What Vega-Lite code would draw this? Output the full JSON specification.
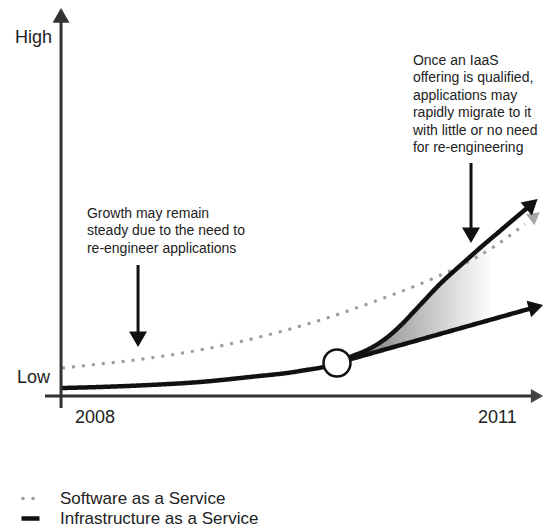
{
  "$schema": "https://vega.github.io/schema/vega-lite/v6.json",
  "width": 555,
  "height": 529,
  "autosize": {"type": "none"},
  "padding": 0,
  "background": "#ffffff",
  "config": {
    "view": {"stroke": null},
    "font": "Liberation Sans",
    "legend": {"rowPadding": 0, "symbolSize": 324, "padding": 0, "labelFontSize": 17, "labelOffset": 18, "labelLimit": 0, "symbolStrokeWidth": 3.5, "symbolType": "stroke"}
  },
  "datasets": {
    "curves": [
      {"series": "Software as a Service", "path": "saas", "year": 2007.754, "level": 7.22},
      {"series": "Software as a Service", "path": "saas", "year": 2008.037, "level": 8.25},
      {"series": "Software as a Service", "path": "saas", "year": 2008.410, "level": 9.79},
      {"series": "Software as a Service", "path": "saas", "year": 2008.783, "level": 11.86},
      {"series": "Software as a Service", "path": "saas", "year": 2009.103, "level": 14.18},
      {"series": "Software as a Service", "path": "saas", "year": 2009.401, "level": 16.75},
      {"series": "Software as a Service", "path": "saas", "year": 2009.729, "level": 20.10},
      {"series": "Software as a Service", "path": "saas", "year": 2010.072, "level": 24.23},
      {"series": "Software as a Service", "path": "saas", "year": 2010.423, "level": 28.87},
      {"series": "Software as a Service", "path": "saas", "year": 2010.721, "level": 33.51},
      {"series": "Software as a Service", "path": "saas", "year": 2010.982, "level": 38.66},
      {"series": "Software as a Service", "path": "saas", "year": 2011.205, "level": 44.33},
      {"series": "Infrastructure as a Service", "path": "iaas-main", "year": 2007.754, "level": 2.06},
      {"series": "Infrastructure as a Service", "path": "iaas-main", "year": 2008.037, "level": 2.32},
      {"series": "Infrastructure as a Service", "path": "iaas-main", "year": 2008.410, "level": 2.84},
      {"series": "Infrastructure as a Service", "path": "iaas-main", "year": 2008.783, "level": 3.61},
      {"series": "Infrastructure as a Service", "path": "iaas-main", "year": 2009.155, "level": 4.90},
      {"series": "Infrastructure as a Service", "path": "iaas-main", "year": 2009.528, "level": 6.44},
      {"series": "Infrastructure as a Service", "path": "iaas-main", "year": 2009.804, "level": 8.51},
      {"series": "Infrastructure as a Service", "path": "iaas-main", "year": 2009.901, "level": 10.05},
      {"series": "Infrastructure as a Service", "path": "iaas-main", "year": 2010.028, "level": 11.86},
      {"series": "Infrastructure as a Service", "path": "iaas-main", "year": 2010.162, "level": 14.69},
      {"series": "Infrastructure as a Service", "path": "iaas-main", "year": 2010.274, "level": 18.04},
      {"series": "Infrastructure as a Service", "path": "iaas-main", "year": 2010.423, "level": 23.45},
      {"series": "Infrastructure as a Service", "path": "iaas-main", "year": 2010.572, "level": 28.87},
      {"series": "Infrastructure as a Service", "path": "iaas-main", "year": 2010.736, "level": 34.02},
      {"series": "Infrastructure as a Service", "path": "iaas-main", "year": 2010.870, "level": 38.14},
      {"series": "Infrastructure as a Service", "path": "iaas-main", "year": 2011.019, "level": 42.53},
      {"series": "Infrastructure as a Service", "path": "iaas-main", "year": 2011.168, "level": 46.91},
      {"series": "Infrastructure as a Service", "path": "iaas-main", "year": 2011.257, "level": 49.48},
      {"series": "Infrastructure as a Service", "path": "iaas-low", "year": 2009.804, "level": 8.51},
      {"series": "Infrastructure as a Service", "path": "iaas-low", "year": 2011.287, "level": 22.94}
    ],
    "shade": [
      {"year": 2009.804, "level": 8.51, "lower": 8.51},
      {"year": 2009.901, "level": 10.05, "lower": 9.45},
      {"year": 2010.028, "level": 11.86, "lower": 10.67},
      {"year": 2010.162, "level": 14.69, "lower": 11.98},
      {"year": 2010.274, "level": 18.04, "lower": 13.07},
      {"year": 2010.423, "level": 23.45, "lower": 14.51},
      {"year": 2010.572, "level": 28.87, "lower": 15.95},
      {"year": 2010.736, "level": 34.02, "lower": 17.55},
      {"year": 2010.870, "level": 38.14, "lower": 18.87},
      {"year": 2010.945, "level": 40.30, "lower": 19.55}
    ],
    "axisLabelsY": [
      {"text": "High", "year": 2007.680, "level": 90.98},
      {"text": "Low", "year": 2007.665, "level": 3.35}
    ],
    "axisLabelsX": [
      {"text": "2008", "year": 2008, "level": -6.96},
      {"text": "2011", "year": 2011, "level": -6.96}
    ],
    "notes": [
      {"text": "Growth may remain\nsteady due to the need to\nre-engineer applications", "year": 2007.940, "level": 45.88},
      {"text": "Once an IaaS\noffering is qualified,\napplications may\nrapidly migrate to it\nwith little or no need\nfor re-engineering", "year": 2010.370, "level": 85.31}
    ]
  },
  "layer": [
    {
      "data": {"name": "shade"},
      "mark": {
        "type": "area",
        "interpolate": "monotone",
        "color": {
          "gradient": "linear", "x1": 0, "y1": 0, "x2": 1, "y2": 0,
          "stops": [
            {"offset": 0, "color": "#5e5e5e"},
            {"offset": 0.4, "color": "#a8a8a8"},
            {"offset": 0.8, "color": "#e2e2e2"},
            {"offset": 1, "color": "#fcfcfc"}
          ]
        }
      },
      "encoding": {
        "x": {"field": "year", "type": "quantitative", "scale": {"domain": [2007.292, 2011.429], "nice": false, "zero": false}, "axis": null},
        "y": {"field": "level", "type": "quantitative", "scale": {"domain": [-34.28, 102.06], "nice": false, "zero": false}, "axis": null},
        "y2": {"field": "lower"}
      }
    },
    {
      "data": {"name": "curves"},
      "mark": {"type": "line", "interpolate": "monotone", "strokeCap": "butt"},
      "encoding": {
        "x": {"field": "year", "type": "quantitative", "scale": {"domain": [2007.292, 2011.429], "nice": false, "zero": false}, "axis": null},
        "y": {"field": "level", "type": "quantitative", "scale": {"domain": [-34.28, 102.06], "nice": false, "zero": false}, "axis": null},
        "detail": {"field": "path", "type": "nominal"},
        "color": {
          "field": "series", "type": "nominal",
          "scale": {"domain": ["Software as a Service", "Infrastructure as a Service"], "range": ["#9a9a9a", "#111111"]},
          "legend": {
            "orient": "none", "legendX": 19, "legendY": 488, "title": null,
            "labelFont": "Liberation Sans", "labelColor": "#222222"
          }
        },
        "strokeDash": {
          "field": "series", "type": "nominal",
          "scale": {"domain": ["Software as a Service", "Infrastructure as a Service"], "range": [[3, 7], [1, 0]]}
        },
        "strokeWidth": {
          "field": "series", "type": "nominal",
          "scale": {"domain": ["Software as a Service", "Infrastructure as a Service"], "range": [3, 4.5]},
          "legend": null
        }
      }
    },
    {
      "data": {"values": [{}]},
      "mark": {"type": "rule", "color": "#333333", "strokeWidth": 3},
      "encoding": {"x": {"datum": 2007.747, "type": "quantitative"}, "y": {"datum": -3.09, "type": "quantitative"}, "y2": {"datum": 97.5}}
    },
    {
      "data": {"values": [{}]},
      "mark": {"type": "rule", "color": "#333333", "strokeWidth": 3},
      "encoding": {"x": {"datum": 2007.627, "type": "quantitative"}, "x2": {"datum": 2011.295}, "y": {"datum": 0, "type": "quantitative"}}
    },
    {
      "data": {"values": [{}]},
      "mark": {"type": "point", "shape": "triangle-up", "filled": true, "opacity": 1, "size": 289, "color": "#333333"},
      "encoding": {"x": {"datum": 2007.747, "type": "quantitative"}, "y": {"datum": 98.09, "type": "quantitative"}}
    },
    {
      "data": {"values": [{}]},
      "mark": {"type": "point", "shape": "triangle-right", "filled": true, "opacity": 1, "size": 200, "color": "#444444"},
      "encoding": {"x": {"datum": 2011.295, "type": "quantitative"}, "y": {"datum": 0, "type": "quantitative"}}
    },
    {
      "data": {"values": [{}]},
      "mark": {"type": "rule", "color": "#111111", "strokeWidth": 3},
      "encoding": {"x": {"datum": 2008.321, "type": "quantitative"}, "y": {"datum": 33.76, "type": "quantitative"}, "y2": {"datum": 15.72}}
    },
    {
      "data": {"values": [{}]},
      "mark": {"type": "rule", "color": "#111111", "strokeWidth": 3},
      "encoding": {"x": {"datum": 2010.803, "type": "quantitative"}, "y": {"datum": 60.05, "type": "quantitative"}, "y2": {"datum": 42.27}}
    },
    {
      "data": {"values": [{}]},
      "mark": {"type": "point", "shape": "triangle-down", "filled": true, "opacity": 1, "size": 324, "color": "#111111"},
      "encoding": {"x": {"datum": 2008.321, "type": "quantitative"}, "y": {"datum": 14.64, "type": "quantitative"}}
    },
    {
      "data": {"values": [{}]},
      "mark": {"type": "point", "shape": "triangle-down", "filled": true, "opacity": 1, "size": 324, "color": "#111111"},
      "encoding": {"x": {"datum": 2010.803, "type": "quantitative"}, "y": {"datum": 41.44, "type": "quantitative"}}
    },
    {
      "data": {"values": [{}]},
      "mark": {"type": "point", "shape": "triangle-up", "filled": true, "opacity": 1, "size": 196, "angle": 53, "color": "#a8a8a8"},
      "encoding": {"x": {"datum": 2011.280, "type": "quantitative"}, "y": {"datum": 46.39, "type": "quantitative"}}
    },
    {
      "data": {"values": [{}]},
      "mark": {"type": "point", "shape": "triangle-up", "filled": true, "opacity": 1, "size": 300, "angle": 49, "color": "#111111"},
      "encoding": {"x": {"datum": 2011.257, "type": "quantitative"}, "y": {"datum": 49.48, "type": "quantitative"}}
    },
    {
      "data": {"values": [{}]},
      "mark": {"type": "point", "shape": "triangle-up", "filled": true, "opacity": 1, "size": 289, "angle": 74.6, "color": "#111111"},
      "encoding": {"x": {"datum": 2011.287, "type": "quantitative"}, "y": {"datum": 22.94, "type": "quantitative"}}
    },
    {
      "data": {"values": [{}]},
      "mark": {"type": "point", "shape": "circle", "filled": false, "fill": "#ffffff", "fillOpacity": 1, "opacity": 1, "size": 729, "stroke": "#111111", "strokeWidth": 2.5},
      "encoding": {"x": {"datum": 2009.804, "type": "quantitative"}, "y": {"datum": 8.51, "type": "quantitative"}}
    },
    {
      "data": {"name": "axisLabelsY"},
      "mark": {"type": "text", "align": "right", "baseline": "alphabetic", "fontSize": 18, "color": "#222222"},
      "encoding": {
        "x": {"field": "year", "type": "quantitative"},
        "y": {"field": "level", "type": "quantitative"},
        "text": {"field": "text"}
      }
    },
    {
      "data": {"name": "axisLabelsX"},
      "mark": {"type": "text", "align": "center", "baseline": "alphabetic", "fontSize": 18, "color": "#222222"},
      "encoding": {
        "x": {"field": "year", "type": "quantitative"},
        "y": {"field": "level", "type": "quantitative"},
        "text": {"field": "text"}
      }
    },
    {
      "data": {"name": "notes"},
      "mark": {"type": "text", "align": "left", "baseline": "alphabetic", "fontSize": 14, "lineHeight": 17.5, "lineBreak": "\n", "color": "#222222"},
      "encoding": {
        "x": {"field": "year", "type": "quantitative"},
        "y": {"field": "level", "type": "quantitative"},
        "text": {"field": "text"}
      }
    }
  ]
}
